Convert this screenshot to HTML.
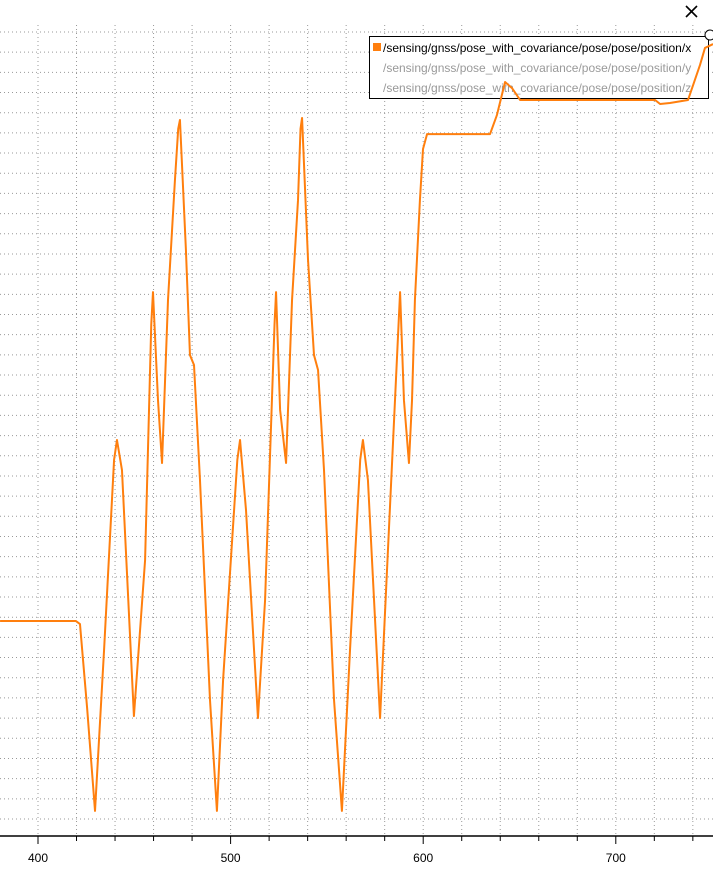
<!DOCTYPE html>
<html><head><meta charset="utf-8"><style>
html,body{margin:0;padding:0;background:#fff;width:713px;height:870px;overflow:hidden}
svg{display:block;font-family:"Liberation Sans","DejaVu Sans",sans-serif}
</style></head><body>
<svg id="chart" width="713" height="870">
<g id="grid"></g>
<g id="axis"></g>
<g>
<rect x="369.5" y="36.5" width="339" height="62" fill="#fff" stroke="#000" stroke-width="1"/>
<rect x="373" y="43" width="8" height="8" fill="#ff7f0e"/>
<text x="383" y="52" font-size="12" fill="#000">/sensing/gnss/pose_with_covariance/pose/pose/position/x</text>
<text x="383" y="72" font-size="12" fill="#999">/sensing/gnss/pose_with_covariance/pose/pose/position/y</text>
<text x="383" y="92" font-size="12" fill="#999">/sensing/gnss/pose_with_covariance/pose/pose/position/z</text>
</g>
<clipPath id="clip"><rect x="0" y="20" width="713" height="816"/></clipPath>
<g clip-path="url(#clip)"><polyline id="line" fill="none" stroke="#ff7f0e" stroke-width="2" stroke-linejoin="round"/></g>
<g stroke="#000" stroke-width="1.6">
<line x1="686" y1="6" x2="697" y2="17"/><line x1="697" y1="6" x2="686" y2="17"/>
</g>
<circle cx="710" cy="35" r="5" fill="#fff" stroke="#000"/>
</svg>
<script>
const times=[380.3,419.7,421.8,425.5,429.6,434.3,439.5,441.0,443.6,449.8,455.6,458.8,459.7,462.3,464.4,467.5,471.1,472.8,473.7,476.8,478.9,481.0,484.1,489.3,492.9,496.1,503.5,504.9,508.0,514.2,517.9,522.8,523.6,525.7,528.8,531.9,535.0,536.3,537.1,540.2,543.3,545.4,548.5,553.7,557.8,562.0,567.3,568.7,571.3,577.6,581.7,587.2,588.0,590.0,592.6,594.2,595.7,598.3,599.9,602.0,634.7,638.3,642.5,646.1,650.3,720.4,723.0,728.1,737.5,743.7,746.3,750.5];
const values=[9.81,9.81,9.66,5.5,0.40,8.37,17.8,18.78,17.29,5.10,12.83,24.5,26.11,20.76,17.64,25.72,31.66,34.2,34.64,28.2,22.99,22.50,16.80,5.90,0.40,6.89,17.8,18.78,15.31,5.00,10.85,24.5,26.11,20.27,17.64,25.72,30.67,34.2,34.74,27.70,22.99,22.25,17.29,5.90,0.40,8.37,17.8,18.78,16.8,5.00,13.33,24.5,26.11,20.76,17.64,20.76,25.72,30.67,33.2,33.94,33.94,34.89,36.52,36.22,35.63,35.63,35.43,35.48,35.63,37.36,38.21,38.40];
const xTicks=[400,500,600,700];
const NS="http://www.w3.org/2000/svg";
const X=t=>38+(t-400)*1.926;
const Y=v=>819-v*20.18;
const grid=document.getElementById('grid'),axis=document.getElementById('axis');
function mk(tag,attrs,parent){const e=document.createElementNS(NS,tag);for(const k in attrs)e.setAttribute(k,attrs[k]);parent.appendChild(e);return e;}
for(let v=0;v<=39;v++){const l=mk('line',{x1:0,x2:713,y1:Y(v),y2:Y(v),stroke:'#999','stroke-dasharray':'1 3'},grid);

}
for(let t=380;t<=760;t+=20){const x=X(t);if(x<0||x>713)continue;
const l=mk('line',{x1:x,x2:x,y1:25,y2:836,stroke:'#999','stroke-dasharray':'1 3'},grid);


const tk=mk('line',{x1:x,x2:x,y1:836,y2:t%100===0?844:841,stroke:'#000'},axis);

}
const al=mk('line',{x1:0,x2:713,y1:836,y2:836,stroke:'#000','stroke-width':1.5},axis);


xTicks.forEach(t=>{const tx=mk('text',{x:X(t),y:862,'text-anchor':'middle','font-size':12,fill:'#000'},axis);tx.textContent=t;

});
document.getElementById('line').setAttribute('points',times.map((t,i)=>X(t)+','+Y(values[i])).join(' '));
</script>
</body></html>
